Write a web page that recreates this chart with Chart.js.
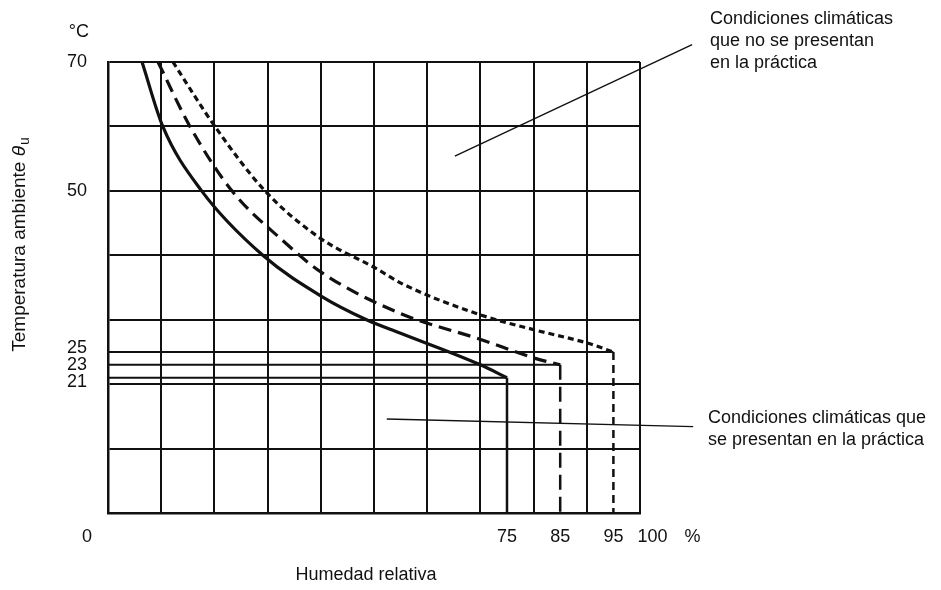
<!DOCTYPE html>
<html>
<head>
<meta charset="utf-8">
<script src="https://cdn.jsdelivr.net/npm/chart.js@4.4.1/dist/chart.umd.min.js"></script>
<style>
  html, body { margin: 0; padding: 0; background: #fff; }
  #wrap { width: 941px; height: 590px; position: relative; }
</style>
</head>
<body>
<div id="wrap"><canvas id="climaChart"></canvas></div>
<script>
// humidity (%) and temperature (°C)
const solidHum  = [6.4, 10.3, 17.6, 29.1, 40.2, 48.6, 55, 70, 75];
const solidTemp = [70, 60, 50, 40, 33.6, 30, 27.9, 23, 21];
const dashHum   = [9.4, 15.4, 23.3, 32.7, 40.2, 54.9, 70.2, 80.3, 85];
const dashTemp  = [70, 60, 50, 42.4, 37.3, 31, 26.9, 24, 23];
const dotHum    = [12.2, 20.1, 29.5, 39.8, 50.3, 55.5, 70.2, 80.3, 90, 95];
const dotTemp   = [70, 60, 50, 42.7, 38, 35.5, 30.7, 28.4, 26.4, 25];

// end corner of each curve
const limitHum  = [75, 85, 95];
const limitTemp = [21, 23, 25];

// leader lines of the two notes
const noteTopHum  = [65.2, 109.8];
const noteTopTemp = [55.4, 72.7];
const noteLowHum  = [52.4, 110];
const noteLowTemp = [14.6, 13.4];

const yLabels = [70, 50, 25, 23, 21];
const xLabels = [75, 85, 95, 100];

const noteTop = ["Condiciones climáticas", "que no se presentan", "en la práctica"];
const noteLow = ["Condiciones climáticas que", "se presentan en la práctica"];

const ink = "#111";
const font = "'Liberation Sans', Arial, sans-serif";
const pts = (xs, ys) => xs.map((v, i) => ({ x: v, y: ys[i] }));

const curveDash = [[], [13, 7], [6, 4]];
const dropDash = [[], [15, 7], [8, 5]];
const curves = [pts(solidHum, solidTemp), pts(dashHum, dashTemp), pts(dotHum, dotTemp)];

const datasets = [];
curves.forEach((d, i) => {
    datasets.push({ data: d, borderWidth: 3.2, borderDash: curveDash[i], cubicInterpolationMode: "monotone" });
    // limit line from the temperature axis to the corner
    datasets.push({ data: [{ x: 0, y: limitTemp[i] }, { x: limitHum[i], y: limitTemp[i] }], borderWidth: 2 });
    // drop from the corner down to the humidity axis
    datasets.push({ data: [{ x: limitHum[i], y: limitTemp[i] }, { x: limitHum[i], y: 0 }], borderWidth: 2.5, borderDash: dropDash[i] });
});
datasets.push({ data: pts(noteTopHum, noteTopTemp), borderWidth: 1.4, clip: false });
datasets.push({ data: pts(noteLowHum, noteLowTemp), borderWidth: 1.4, clip: false });
datasets.forEach(d => { d.borderColor = ink; d.pointRadius = 0; d.fill = false; });

const textPlugin = {
    id: "texts",
    afterDraw(chart) {
        const { ctx, scales: { x, y } } = chart;
        const x0 = x.getPixelForValue(0), x100 = x.getPixelForValue(100);
        const yTop = y.getPixelForValue(70), yBot = y.getPixelForValue(0);
        ctx.save();
        ctx.fillStyle = ink;
        ctx.textBaseline = "middle";
        ctx.font = "18px " + font;

        // y labels, close ones spread apart
        const minGap = 17;
        const pos = yLabels.map(v => y.getPixelForValue(v));
        let groups = [[0]];
        for (let i = 1; i < pos.length; i++) {
            if (pos[i] - pos[i - 1] < minGap) groups[groups.length - 1].push(i);
            else groups.push([i]);
        }
        ctx.textAlign = "right";
        const labRight = x0 - 21;
        groups.forEach(g => {
            const mid = g.reduce((s, i) => s + pos[i], 0) / g.length;
            g.forEach((i, k) => {
                const py = g.length > 1 ? mid + (k - (g.length - 1) / 2) * minGap : pos[i];
                ctx.fillText(String(yLabels[i]), labRight, py);
            });
        });
        ctx.fillText("°C", labRight + 2, yTop - 30);

        // x labels
        ctx.textAlign = "left";
        const ly = yBot + 24;
        let prevRight = -1e9;
        xLabels.forEach(v => {
            const s = String(v), w = ctx.measureText(s).width;
            let left = x.getPixelForValue(v) - w / 2;
            if (left < prevRight + 14) left = prevRight + 14;
            ctx.fillText(s, left, ly);
            prevRight = left + w;
        });
        ctx.fillText("%", prevRight + 17, ly);
        ctx.textAlign = "center";
        ctx.fillText("0", x0 - 21, ly);

        // axis titles
        ctx.fillText("Humedad relativa", 366, 575);
        ctx.save();
        ctx.translate(20, 245);
        ctx.rotate(-Math.PI / 2);
        const main = "Temperatura ambiente ";
        ctx.font = "19px " + font;
        const w1 = ctx.measureText(main).width;
        ctx.font = "italic 19px " + font;
        const w2 = ctx.measureText("θ").width;
        ctx.font = "14px " + font;
        const w3 = ctx.measureText("u").width;
        let sx = -(w1 + w2 + w3) / 2;
        ctx.textAlign = "left";
        ctx.font = "19px " + font;
        ctx.fillText(main, sx, 0);
        ctx.font = "italic 19px " + font;
        ctx.fillText("θ", sx + w1, 0);
        ctx.font = "14px " + font;
        ctx.fillText("u", sx + w1 + w2 + 1, 5);
        ctx.restore();

        // notes
        ctx.textAlign = "left";
        ctx.font = "18px " + font;
        noteTop.forEach((t, i) => ctx.fillText(t, x100 + 70, 19 + i * 22));
        noteLow.forEach((t, i) => ctx.fillText(t, x100 + 68, 418 + i * 22));
        ctx.restore();
    }
};

new Chart(document.getElementById("climaChart"), {
    type: "line",
    data: { datasets: datasets },
    options: {
        responsive: true,
        maintainAspectRatio: false,
        animation: false,
        layout: { padding: { left: 108, top: 62, right: 301, bottom: 77 } },
        plugins: { legend: { display: false }, tooltip: { enabled: false } },
        scales: {
            x: {
                type: "linear", min: 0, max: 100,
                ticks: { display: false, stepSize: 10 },
                grid: { color: ink, lineWidth: 2, drawTicks: false },
                border: { display: true, color: ink, width: 2.5 }
            },
            y: {
                type: "linear", min: 0, max: 70,
                ticks: { display: false, stepSize: 10 },
                grid: { color: ink, lineWidth: 2, drawTicks: false },
                border: { display: true, color: ink, width: 2.5 }
            }
        }
    },
    plugins: [textPlugin]
});
</script>
</body>
</html>
